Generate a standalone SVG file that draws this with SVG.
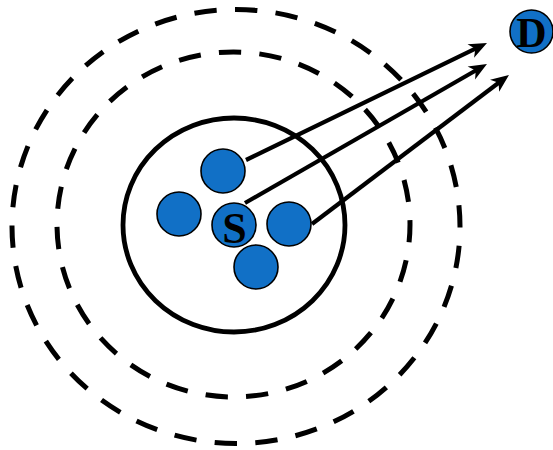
<svg xmlns="http://www.w3.org/2000/svg" width="553" height="450" viewBox="0 0 553 450">
<style>
.ring{fill:none;stroke:#000;stroke-width:5;stroke-dasharray:22 18}
.node{fill:#1170C6;stroke:#000;stroke-width:1.6}
.lbl{font-family:"Liberation Serif","Times New Roman",serif;font-weight:bold;font-size:42px;fill:#000;text-anchor:middle}
.arrow{stroke:#000;stroke-width:4.2;fill:none;marker-end:url(#ah)}
</style>
<defs>
<marker id="ah" markerUnits="userSpaceOnUse" viewBox="-12 -10 26 20" markerWidth="26" markerHeight="20" refX="0" refY="0" orient="auto" overflow="visible">
<path d="M10,0 L-8,-7.5 L-3,0 L-8,7.5 Z" fill="#000"/>
</marker>
</defs>
<g id="rings">
<ellipse class="ring" cx="236" cy="226.5" rx="224" ry="217" pathLength="1360" stroke-dashoffset="21"/>
<ellipse class="ring" cx="233.5" cy="224.5" rx="176.5" ry="172.5" pathLength="1080" stroke-dashoffset="4.4"/>
</g>
<g id="cluster">
<ellipse cx="234" cy="225" rx="111" ry="107" fill="none" stroke="#000" stroke-width="4.8"/>
</g>
<g id="connectors">
<line class="arrow" x1="246" y1="160" x2="478" y2="47.4"/>
<line class="arrow" x1="245" y1="203" x2="478.3" y2="69"/>
<line class="arrow" x1="312" y1="224" x2="501" y2="81"/>
</g>
<g id="n-top"><circle class="node" cx="223" cy="171" r="22"/></g>
<g id="n-left"><circle class="node" cx="179" cy="214" r="22"/></g>
<g id="n-right"><circle class="node" cx="289" cy="224" r="22"/></g>
<g id="n-bottom"><circle class="node" cx="256" cy="267" r="22"/></g>
<g id="n-S"><circle class="node" cx="234" cy="225" r="22"/><text class="lbl" x="234.5" y="242.5" style="font-size:44px">S</text></g>
<g id="n-D"><circle class="node" cx="531.5" cy="31.5" r="21.5"/><text class="lbl" x="531.5" y="46.5">D</text></g>
</svg>
